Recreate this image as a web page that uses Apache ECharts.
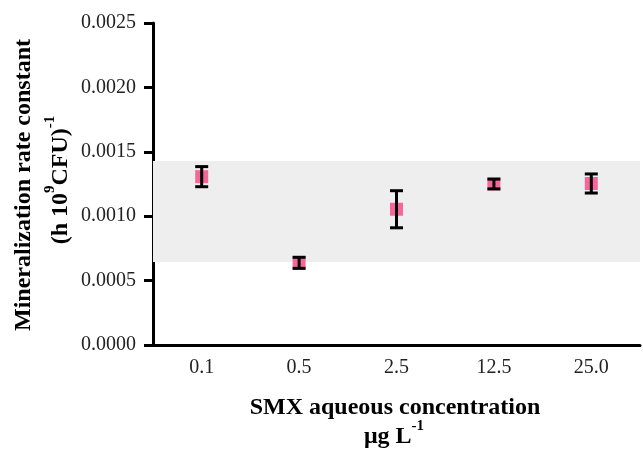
<!DOCTYPE html>
<html>
<head>
<meta charset="utf-8">
<script src="https://cdn.jsdelivr.net/npm/echarts@6/dist/echarts.min.js"></script>
<style>
  html, body { margin: 0; padding: 0; background: #fff; }
  #root { width: 643px; height: 451px; }
</style>
</head>
<body>
<div id="root"></div>
<script>
// data
var categories = ['0.1', '0.5', '2.5', '12.5', '25.0']
var means = [0.001307, 0.000638, 0.001054, 0.00125, 0.001254]
var errors = [0.000078, 0.000043, 0.000144, 0.000038, 0.000074]
var bandRange = [0.000644, 0.001429]
var yTicks = [0, 0.0005, 0.001, 0.0015, 0.002, 0.0025]

var serif = '"Liberation Serif", "DejaVu Serif", serif'
var chart = echarts.init(document.getElementById('root'))

var errData = means.map(function (m, i) { return [i, m - errors[i], m + errors[i]] })

chart.setOption({
  animation: false,
  backgroundColor: '#fff',
  grid: { left: 153, right: 3, top: 23, bottom: 106 },
  xAxis: {
    type: 'category',
    data: categories,
    boundaryGap: true,
    axisLine: { lineStyle: { color: '#000', width: 3 } },
    axisTick: { alignWithLabel: true, length: 9, lineStyle: { color: '#000', width: 3 } },
    axisLabel: { color: '#222', fontFamily: serif, fontSize: 20, margin: 13 }
  },
  yAxis: {
    type: 'value',
    min: yTicks[0],
    max: yTicks[yTicks.length - 1],
    interval: 0.0005,
    splitLine: { show: false },
    axisLine: { show: true, lineStyle: { color: '#000', width: 3 } },
    axisTick: { show: true, length: 9, lineStyle: { color: '#000', width: 3 } },
    axisLabel: {
      color: '#222', fontFamily: serif, fontSize: 20, margin: 17,
      formatter: function (v) { return v.toFixed(4) }
    }
  },
  graphic: [
    {
      type: 'text', x: 24, y: 185, rotation: Math.PI / 2,
      style: {
        text: 'Mineralization rate constant',
        font: 'bold 24px ' + serif, fill: '#000',
        align: 'center', verticalAlign: 'middle'
      }
    },
    {
      type: 'text', x: 58, y: 180, rotation: Math.PI / 2,
      style: {
        text: '{m|(h 10}{s|9}{m|CFU)}{s|-1}',
        fill: '#000', align: 'center', verticalAlign: 'middle',
        rich: {
          m: { font: 'bold 24px ' + serif, lineHeight: 30, verticalAlign: 'bottom' },
          s: { font: 'bold 15px ' + serif, lineHeight: 18, verticalAlign: 'top' }
        }
      }
    },
    {
      type: 'text', x: 395, y: 408,
      style: {
        text: 'SMX aqueous concentration',
        font: 'bold 24px ' + serif, fill: '#000',
        align: 'center', verticalAlign: 'middle'
      }
    },
    {
      type: 'text', x: 394, y: 434,
      style: {
        text: '{m|μg L}{s|-1}',
        fill: '#000', align: 'center', verticalAlign: 'middle',
        rich: {
          m: { font: 'bold 24px ' + serif, lineHeight: 30, verticalAlign: 'bottom' },
          s: { font: 'bold 15px ' + serif, lineHeight: 18, verticalAlign: 'top' }
        }
      }
    }
  ],
  series: [
    {
      type: 'scatter',
      data: means,
      symbol: 'rect',
      symbolSize: 13,
      itemStyle: { color: '#f5679a', opacity: 1 },
      z: 3,
      markArea: {
        silent: true,
        itemStyle: { color: '#eeeeee' },
        data: [[{ yAxis: bandRange[0] }, { yAxis: bandRange[1] }]]
      }
    },
    {
      type: 'custom',
      data: errData,
      z: 5,
      renderItem: function (params, api) {
        var lo = api.coord([api.value(0), api.value(1)])
        var hi = api.coord([api.value(0), api.value(2)])
        var half = 6.5
        var st = { stroke: '#000', lineWidth: 3 }
        return {
          type: 'group',
          children: [
            { type: 'line', shape: { x1: lo[0], y1: lo[1], x2: hi[0], y2: hi[1] }, style: st },
            { type: 'line', shape: { x1: lo[0] - half, y1: lo[1], x2: lo[0] + half, y2: lo[1] }, style: st },
            { type: 'line', shape: { x1: hi[0] - half, y1: hi[1], x2: hi[0] + half, y2: hi[1] }, style: st }
          ]
        }
      }
    }
  ]
})
</script>
</body>
</html>
